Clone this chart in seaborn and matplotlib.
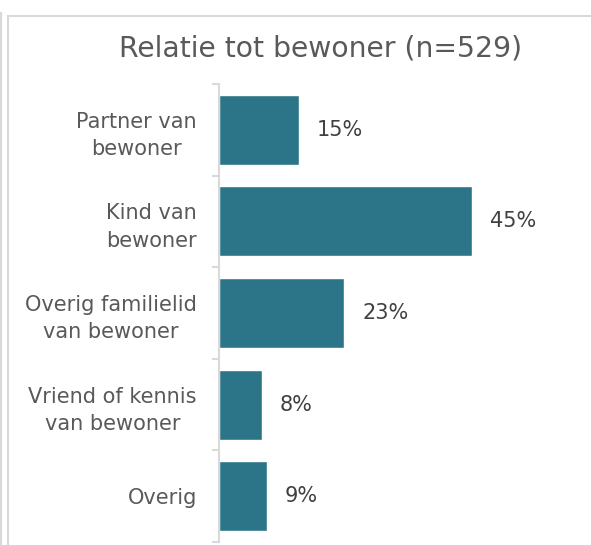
import matplotlib
matplotlib.use("Agg")
from matplotlib import pyplot as plt
from matplotlib.lines import Line2D
import seaborn as sns
import pandas as pd
import numpy as np

categories = ["Partner van\nbewoner", "Kind van\nbewoner", "Overig familielid\nvan bewoner",
              "Vriend of kennis\nvan bewoner", "Overig"]
values = [14.2, 45.2, 22.4, 7.6, 8.5]
value_labels = ["15%", "45%", "23%", "8%", "9%"]
title = "Relatie tot bewoner (n=529)"

W, H = 591, 545
bar_color = "#2C7588"
text_color = "#595959"
grid_color = "#D9D9D9"

sns.set_style("white")
plt.rcParams['font.family'] = ['DejaVu Sans']

df = pd.DataFrame({"cat": categories, "val": values})

fig = plt.figure(figsize=(W / 100, H / 100), dpi=100)
ax = fig.add_axes([219 / W, 3 / H, (555 - 219) / W, (542 - 84) / H])
sns.barplot(data=df, x="val", y="cat", ax=ax, color=bar_color, saturation=1,
            width=0.765, orient="h")

ax.set_xlim(0, 60)
ax.set_ylim(4.5, -0.5)
ax.set_xlabel("")
ax.set_ylabel("")
ax.set_xticks([])
for s in ["top", "right", "bottom"]:
    ax.spines[s].set_visible(False)
ax.spines["left"].set_color(grid_color)
ax.spines["left"].set_linewidth(1.5)

ax.set_yticks(np.arange(len(categories)))
ax.set_yticklabels(categories, fontsize=15, color=text_color, ha="right",
                   multialignment="center", linespacing=1.45)
ax.tick_params(axis="y", which="major", left=False, length=0, pad=16)
ax.set_yticks(np.arange(-0.5, len(categories), 1), minor=True)
ax.tick_params(axis="y", which="minor", left=True, length=5, width=1.5, color=grid_color)

for i, (v, lab) in enumerate(zip(values, value_labels)):
    ax.text(v + 3.2, i, lab, va="center", ha="left", fontsize=15, color="#404040")

fig.text(321 / W, 1 - 48 / H, title, ha="center", va="center", fontsize=20.3, color=text_color)

# chart frame
fc = grid_color
fig.add_artist(Line2D([1.5 / W, 1.5 / W], [0, 1 - 13 / H], transform=fig.transFigure, color=fc, lw=1.5))
fig.add_artist(Line2D([0, 1.5 / W], [1 - 13 / H, 1 - 13 / H], transform=fig.transFigure, color=fc, lw=1.5))
fig.add_artist(Line2D([8 / W, 8 / W], [0, 1 - 16 / H], transform=fig.transFigure, color=fc, lw=1.5))
fig.add_artist(Line2D([8 / W, 1], [1 - 16 / H, 1 - 16 / H], transform=fig.transFigure, color=fc, lw=1.5))

fig.savefig("out.png", dpi=100)
